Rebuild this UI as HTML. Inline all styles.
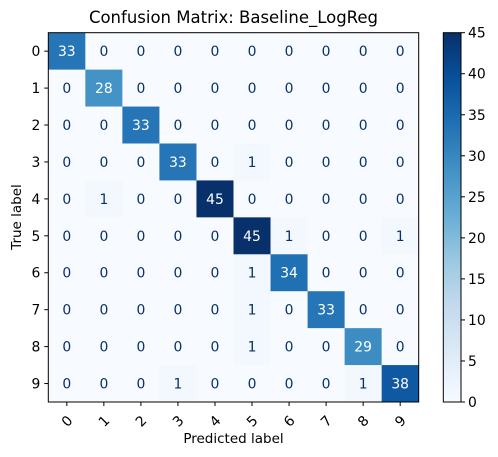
<!DOCTYPE html>
<html><head><meta charset="utf-8"><style>
body{margin:0;background:#fff;}
svg{display:block;font-family:"DejaVu Sans","Liberation Sans",sans-serif;}
</style></head><body>
<svg id="chart" width="498" height="457" viewBox="0 0 498 457" xmlns="http://www.w3.org/2000/svg">
<text x="233.5" y="23" text-anchor="middle" font-size="16.5">Confusion Matrix: Baseline_LogReg</text>
<g id="cells"></g>
<g id="axes"></g>
<text x="233.5" y="443" text-anchor="middle" font-size="13.5">Predicted label</text>
<text transform="translate(21,217) rotate(-90)" text-anchor="middle" font-size="13.5">True label</text>
<defs><linearGradient id="cbgrad" x1="0" y1="1" x2="0" y2="0"></linearGradient></defs>
<g id="colorbar"></g>
</svg>
<script>
const labels = ["0","1","2","3","4","5","6","7","8","9"];
const row0 = [33,0,0,0,0,0,0,0,0,0];
const row1 = [0,28,0,0,0,0,0,0,0,0];
const row2 = [0,0,33,0,0,0,0,0,0,0];
const row3 = [0,0,0,33,0,1,0,0,0,0];
const row4 = [0,1,0,0,45,0,0,0,0,0];
const row5 = [0,0,0,0,0,45,1,0,0,1];
const row6 = [0,0,0,0,0,1,34,0,0,0];
const row7 = [0,0,0,0,0,1,0,33,0,0];
const row8 = [0,0,0,0,0,1,0,0,29,0];
const row9 = [0,0,0,1,0,0,0,0,1,38];
const matrix = [row0,row1,row2,row3,row4,row5,row6,row7,row8,row9];
const cbTicks = [0,5,10,15,20,25,30,35,40,45];

const NS="http://www.w3.org/2000/svg";
const L=48.3,T=32.7,R=418.7,B=402;
const n=labels.length;
const cw=(R-L)/n, ch=(B-T)/n;
const vmin=0, vmax=Math.max(...matrix.flat());
const xPos=i=>L+cw*i, yPos=i=>T+ch*i;
const blues=["#f7fbff","#deebf7","#c6dbef","#9ecae1","#6baed6","#4292c6","#2171b5","#08519c","#08306b"];
function hex(h){return [1,3,5].map(i=>parseInt(h.substr(i,2),16));}
function cmap(v){let t=(v-vmin)/(vmax-vmin||1);t=Math.max(0,Math.min(1,t))*(blues.length-1);
 const i=Math.min(Math.floor(t),blues.length-2),f=t-i;const a=hex(blues[i]),b=hex(blues[i+1]);
 return "rgb("+a.map((c,k)=>Math.round(c+(b[k]-c)*f)).join(",")+")";}
function mk(tag,attrs,parent){const e=document.createElementNS(NS,tag);for(const k in attrs)e.setAttribute(k,attrs[k]);parent.appendChild(e);return e;}
const cells=document.getElementById("cells"),axes=document.getElementById("axes"),cb=document.getElementById("colorbar");
for(let r=0;r<n;r++)for(let c=0;c<n;c++){
 const v=matrix[r][c];
 const rect=mk("rect",{x:xPos(c),y:yPos(r),width:cw+0.3,height:ch+0.3,fill:cmap(v)},cells);
 
 
 const t=mk("text",{x:xPos(c)+cw/2,y:yPos(r)+ch/2+5,"text-anchor":"middle","font-size":"13.9",fill:v>(vmax/2)?"#fff":"#08306b"},cells);
 t.textContent=v;
 
 
}
const frame=mk("rect",{x:L,y:T,width:R-L,height:B-T,fill:"none",stroke:"#000","stroke-width":"1"},axes);


labels.forEach((lab,i)=>{
 const cx=xPos(i)+cw/2, cy=yPos(i)+ch/2;
 mk("line",{x1:cx,y1:B,x2:cx,y2:B+4,stroke:"#000"},axes);
 const xt=mk("text",{transform:`translate(${cx},${B+19}) rotate(-45)`,"text-anchor":"middle","font-size":"13.9",dy:"5"},axes);
 xt.textContent=lab;
 
 
 mk("line",{x1:L-4,y1:cy,x2:L,y2:cy,stroke:"#000"},axes);
 const yt=mk("text",{x:L-8,y:cy+5,"text-anchor":"end","font-size":"13.9"},axes);
 yt.textContent=lab;
 
 
});
const CL=443.3,CR=461,CT=T,CB=B;
const grad=document.getElementById("cbgrad");
blues.forEach((c,i)=>mk("stop",{offset:(i/(blues.length-1)),"stop-color":c},grad));
const cbr=mk("rect",{x:CL,y:CT,width:CR-CL,height:CB-CT,fill:"url(#cbgrad)",stroke:"#000","stroke-width":"1"},cb);


const cy=v=>CB-(v-vmin)/(vmax-vmin)*(CB-CT);
cbTicks.forEach(v=>{
 mk("line",{x1:CR,y1:cy(v),x2:CR+4,y2:cy(v),stroke:"#000"},cb);
 const t=mk("text",{x:CR+7,y:cy(v)+5,"font-size":"13.9"},cb);
 t.textContent=v;
 
 
});
</script>
</body></html>
